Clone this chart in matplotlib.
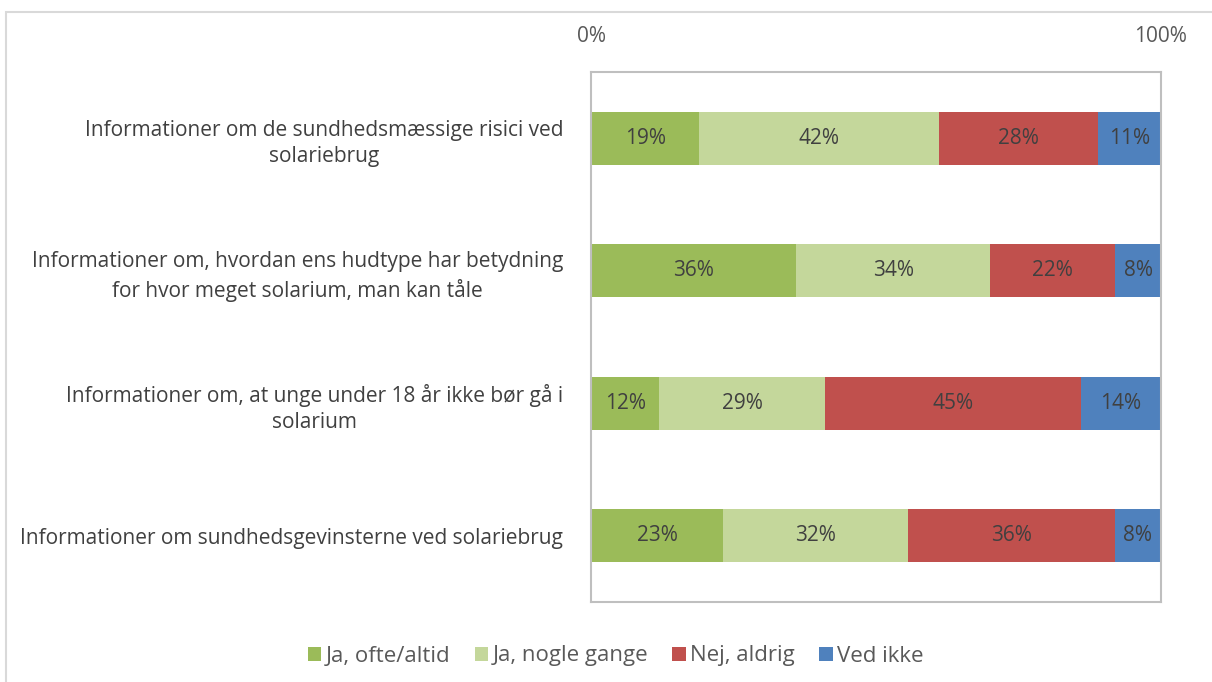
import numpy as np
from matplotlib import pyplot as plt
from matplotlib.patches import Rectangle

# Data (percent, top row first)
categories = [
    "Informationer om de sundhedsmæssige risici ved\nsolariebrug",
    "Informationer om, hvordan ens hudtype har betydning\nfor hvor meget solarium, man kan tåle",
    "Informationer om, at unge under 18 år ikke bør gå i\nsolarium",
    "Informationer om sundhedsgevinsterne ved solariebrug",
]
series_names = ["Ja, ofte/altid", "Ja, nogle gange", "Nej, aldrig", "Ved ikke"]
ja_ofte = [19, 36, 12, 23]
ja_nogle = [42, 34, 29, 32]
nej_aldrig = [28, 22, 45, 36]
ved_ikke = [11, 8, 14, 8]

colors = ["#9BBB59", "#C4D79B", "#C0504D", "#4F81BD"]

plt.rcParams['font.family'] = ['Open Sans', 'DejaVu Sans']

fig = plt.figure(figsize=(12.12, 6.82), dpi=100)
ax = fig.add_axes([591/1212, 1 - 602/682, 570/1212, 530/682])

# outer chart frame (runs off the right and bottom edges)
fig.patches.append(Rectangle((6/1212, -0.2), 1.2, 1.2 - 12/682,
                             transform=fig.transFigure, fill=False,
                             edgecolor="#d9d9d9", lw=1.5, clip_on=False))

series = [ja_ofte, ja_nogle, nej_aldrig, ved_ikke]
totals = np.sum(series, axis=0)
y = np.arange(len(categories))
left = np.zeros(len(categories))
for name, vals, c in zip(series_names, series, colors):
    vals = np.array(vals, dtype=float)
    frac = vals / totals
    bars = ax.barh(y, frac, left=left, height=0.4, color=c, label=name)
    ax.bar_label(bars, labels=[f"{int(v)}%" for v in vals], label_type='center',
                 color="#404040", fontsize=15)
    left += frac

ax.set_xlim(0, 1)
ax.set_ylim(3.5, -0.5)
ax.xaxis.tick_top()
ax.set_xticks([0, 1])
ax.set_xticklabels(["0%", "100%"])
ax.tick_params(axis='x', length=0, pad=18, labelsize=15, labelcolor="#595959")
ax.set_yticks(y)
ax.set_yticklabels(categories, multialignment='center', linespacing=1.35)
ax.tick_params(axis='y', length=0, pad=20, labelsize=15, labelcolor="#404040")
for s in ax.spines.values():
    s.set_color("#bfbfbf")
    s.set_linewidth(1.5)

fig.legend(loc='center', bbox_to_anchor=(0.508, 1 - 656/682), ncol=4, frameon=False,
           handlelength=0.6, handleheight=0.6, handletextpad=0.2, columnspacing=1.1,
           fontsize=16, labelcolor="#595959")

fig.savefig("out.png", dpi=100)
